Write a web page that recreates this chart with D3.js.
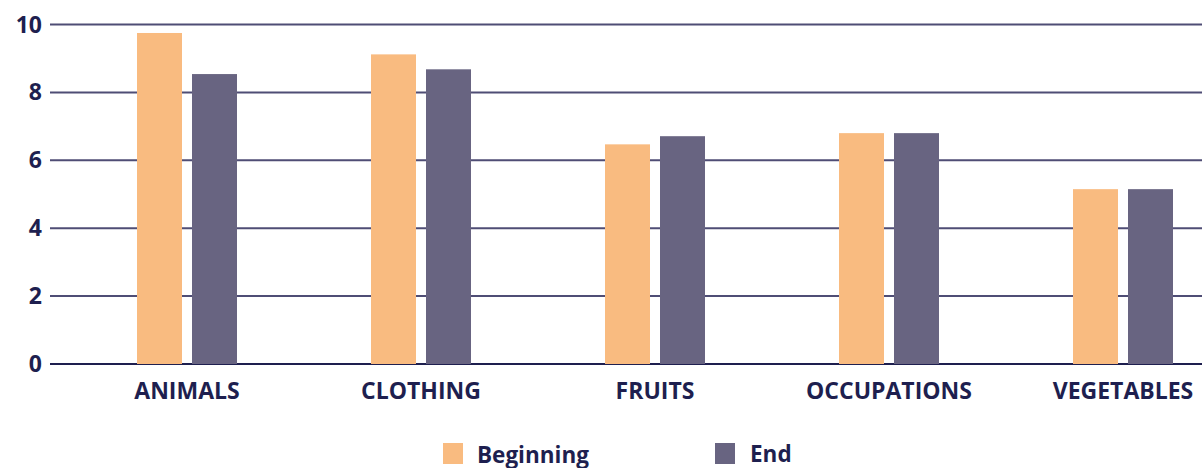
<!DOCTYPE html>
<html>
<head>
<meta charset="utf-8">
<script src="https://cdn.jsdelivr.net/npm/d3@7"></script>
<style>
  body { margin: 0; background: #fff; }
  text { font-family: "Open Sans", "Noto Sans", sans-serif; font-weight: 700; fill: #1e1f4f; }
</style>
</head>
<body>
<div id="chart"></div>
<script>
const layout = {
    width: 1202,
    height: 468,
    gridLeft: 50,
    bandLeft: 70,
    bandRight: 1240,
    top: 24.5,
    bottom: 364
};

const categories = ["ANIMALS", "CLOTHING", "FRUITS", "OCCUPATIONS", "VEGETABLES"];
const seriesNames = ["Beginning", "End"];
const beginning = [9.75, 9.12, 6.47, 6.8, 5.15];
const end = [8.54, 8.68, 6.71, 6.8, 5.15];
const yTicks = [0, 2, 4, 6, 8, 10];
const colors = ["#f9bb80", "#686481"];

const svg = d3.select("#chart").append("svg")
    .attr("width", layout.width)
    .attr("height", layout.height);

const x = d3.scaleBand()
    .domain(categories)
    .range([layout.bandLeft, layout.bandRight]);

const y = d3.scaleLinear()
    .domain([0, 10])
    .range([layout.bottom, layout.top]);

// grid lines
svg.append("g")
    .selectAll("line")
    .data(yTicks)
    .enter().append("line")
    .attr("x1", layout.gridLeft)
    .attr("x2", layout.width)
    .attr("y1", d => y(d))
    .attr("y2", d => y(d))
    .attr("stroke", d => d == 0 ? "#1e1f4f" : "#4f4d75")
    .attr("stroke-width", 2);

// y labels
svg.append("g")
    .selectAll("text")
    .data(yTicks)
    .enter().append("text")
    .attr("x", 42)
    .attr("y", d => y(d))
    .attr("dy", "0.35em")
    .attr("text-anchor", "end")
    .attr("font-size", 23)
    .text(d => d);

// bars
const barW = 45, gap = 10;
const rows = categories.map((c, i) => ({ cat: c, vals: [beginning[i], end[i]] }));

const groups = svg.append("g")
    .selectAll("g")
    .data(rows)
    .enter().append("g")
    .attr("transform", d => `translate(${x(d.cat) + x.bandwidth() / 2},0)`);

groups.selectAll("rect")
    .data(d => d.vals)
    .enter().append("rect")
    .attr("x", (d, i) => i == 0 ? -barW - gap / 2 : gap / 2)
    .attr("y", d => y(d))
    .attr("width", barW)
    .attr("height", d => y(0) - y(d))
    .attr("fill", (d, i) => colors[i]);

// category labels
svg.append("g")
    .selectAll("text")
    .data(categories)
    .enter().append("text")
    .attr("x", d => x(d) + x.bandwidth() / 2)
    .attr("y", 399)
    .attr("text-anchor", "middle")
    .attr("font-size", 23)
    .text(d => d);

// legend
const legendX = [443, 715];
const legend = svg.append("g")
    .selectAll("g")
    .data(seriesNames)
    .enter().append("g")
    .attr("transform", (d, i) => `translate(${legendX[i]},443)`);

legend.append("rect")
    .attr("width", 20)
    .attr("height", 21)
    .attr("fill", (d, i) => colors[i]);

legend.append("text")
    .attr("x", (d, i) => i == 0 ? 34 : 35)
    .attr("y", (d, i) => i == 0 ? 19.5 : 19)
    .attr("font-size", 22.5)
    .text(d => d);
</script>
</body>
</html>
